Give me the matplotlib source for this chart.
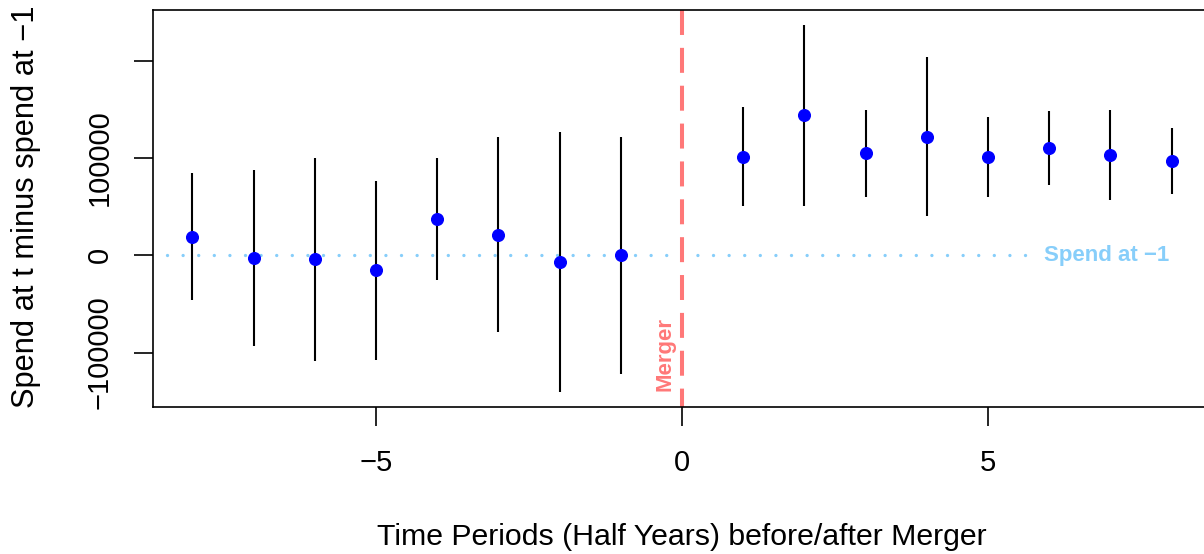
import numpy as np
import matplotlib
matplotlib.use("Agg")
import matplotlib.pyplot as plt

plt.rcParams['font.family'] = ['Liberation Sans', 'DejaVu Sans']

# --- DATA ---
periods = [-8, -7, -6, -5, -4, -3, -2, -1, 1, 2, 3, 4, 5, 6, 7, 8]
estimate = [19100, -2700, -4100, -15400, 37500, 21200, -6800, 0,
            101600, 144000, 105100, 122100, 101000, 110500, 103400, 96900]
lower = [-45800, -93400, -108200, -107200, -25300, -79100, -140500, -121800,
         51200, 50500, 60100, 40900, 59700, 72000, 57000, 62700]
upper = [84600, 87300, 99600, 76500, 99600, 122100, 126600, 121800,
         152200, 237100, 149400, 203400, 142000, 148700, 149400, 131000]

x_ticks = [-5, 0, 5]
y_ticks = [-100000, 0, 100000, 200000]
y_ticklabels = ['\u2212100000', '0', '100000', '']

MERGER_COL = '#ff7878'
REF_COL = '#87cefa'

# --- PLOT SETUP ---
fig = plt.figure(figsize=(12.04, 5.54), dpi=100)
ax = fig.add_axes([153.3 / 1204, 1 - 406.7 / 554, (1210.8 - 153.3) / 1204, (406.7 - 10) / 554])

# R style 4% padding around data range
xr = max(periods) - min(periods)
ax.set_xlim(min(periods) - 0.04 * xr, max(periods) + 0.04 * xr)
ymin, ymax = min(lower), max(upper)
yr = ymax - ymin
ax.set_ylim(ymin - 0.04 * yr, ymax + 0.04 * yr)

# reference line at zero (spend at -1)
ax.plot([-8.42, 5.66], [0, 0], color=REF_COL, lw=2.4,
        linestyle=(0, (0.01, 4.67)), dash_capstyle='round', zorder=1)
ax.text(6.94, 0, 'Spend at \u22121', color=REF_COL, fontsize=16, weight='bold',
        ha='center', va='center')

# merger line
ax.plot([0, 0], [1, 0], transform=ax.get_xaxis_transform(), color=MERGER_COL,
        lw=2.9, linestyle=(0, (6.2, 3.2)), zorder=1, clip_on=False)
ax.text(-0.28, -101000, 'Merger', color=MERGER_COL, fontsize=16, weight='bold',
        rotation=90, ha='center', va='center')

# confidence intervals and point estimates
ax.vlines(periods, lower, upper, color='black', lw=1.5, zorder=2)
ax.plot(periods, estimate, 'o', color='#0000ff', markersize=8.4, zorder=3)

# --- STYLING ---
ax.set_xticks(x_ticks)
ax.set_xticklabels(['\u22125', '0', '5'])
ax.set_yticks(y_ticks)
ax.set_yticklabels(y_ticklabels, rotation=90, va='center')
ax.tick_params(axis='both', direction='out', length=13.7, width=1.2, labelsize=21)
ax.tick_params(axis='x', pad=17)
ax.tick_params(axis='y', pad=15)

for side in ['left', 'bottom', 'top', 'right']:
    ax.spines[side].set_linewidth(1.2)

fig.text(682 / 1204, 9 / 554, 'Time Periods (Half Years) before/after Merger',
         fontsize=21.8, ha='center', va='baseline')
fig.text(34.5 / 1204, 1 - 207 / 554, 'Spend at t minus spend at \u22121',
         fontsize=22.2, rotation=90, rotation_mode='anchor', ha='center', va='baseline')

fig.savefig('out.png', dpi=100)
